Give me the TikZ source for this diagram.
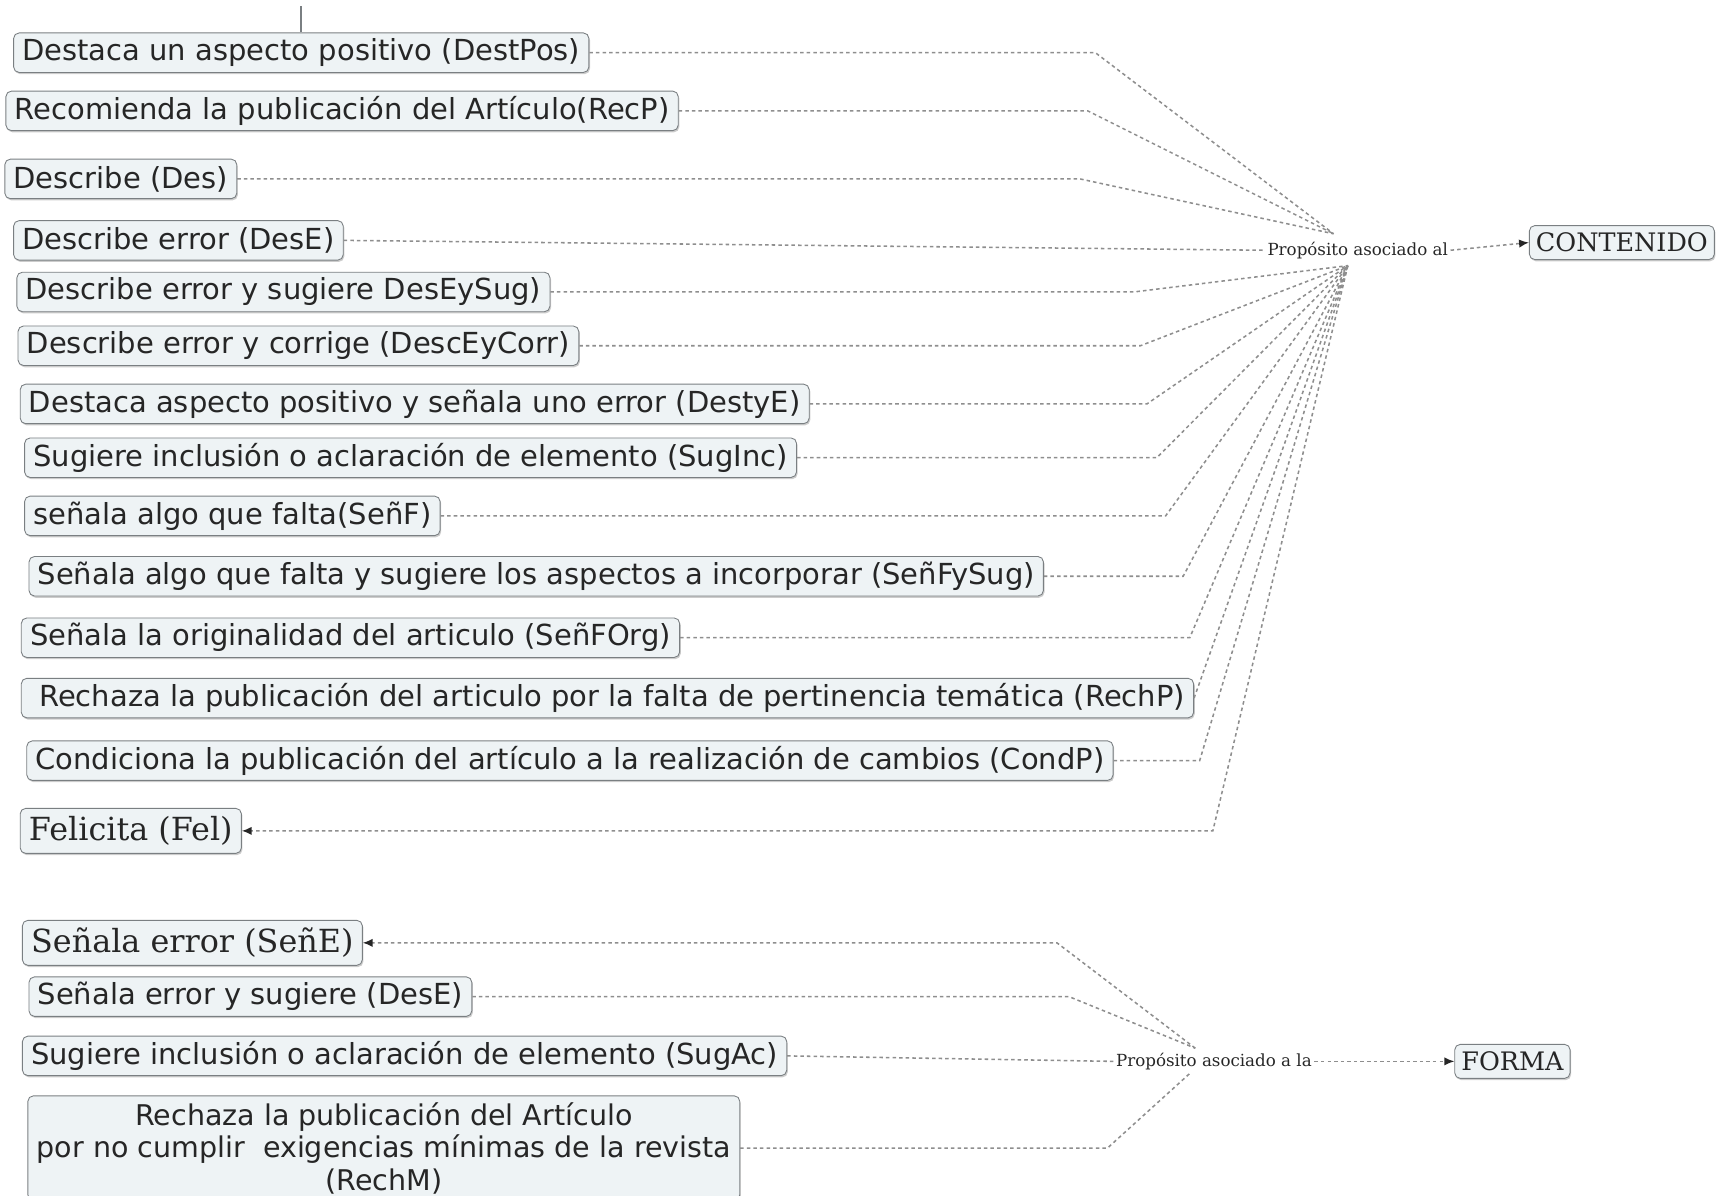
\documentclass[tikz,border=0pt]{standalone}
\usepackage{fontspec}
\setmainfont{DejaVu Sans}
\newfontfamily\serifnode{DejaVu Serif}
\usetikzlibrary{positioning,calc,arrows.meta,shadows}
\definecolor{boxfill}{HTML}{EEF3F5}
\definecolor{boxline}{HTML}{7A7F82}
\definecolor{linkgray}{HTML}{8E8E8E}
\definecolor{txt}{HTML}{262626}

\begin{document}
\begin{tikzpicture}[x=0.5pt,y=-0.5pt,
	item/.style={draw=boxline,fill=boxfill,rounded corners=2.5pt,text=txt,anchor=west,
		inner xsep=4pt,inner ysep=2pt,minimum height=18pt,
		font=\fontsize{13.2}{15.8}\selectfont,
		drop shadow={shadow xshift=0.5pt,shadow yshift=-0.8pt,opacity=0.2,fill=black}},
	bigitem/.style={item,font=\serifnode\fontsize{14.5}{17}\selectfont,minimum height=20.5pt},
	topic/.style={item,font=\serifnode\fontsize{11.6}{14}\selectfont,minimum height=15.5pt,inner xsep=3pt},
	via/.style={text=black!85,inner sep=1pt,font=\serifnode\fontsize{7.6}{9}\selectfont},
	link/.style={draw=linkgray,line width=0.7pt,dash pattern=on 1.6pt off 1.4pt},
	tip/.style={-{Latex[length=4.5pt,width=3.8pt,color=black!85]}}
	]
	\useasboundingbox (0,0) rectangle (1568,1089);
	
	\node[item] (DestPos) at (12,48) {Destaca un aspecto positivo (DestPos)};
	\node[item] (RecP) at (5,101) {Recomienda la publicación del Artículo(RecP)};
	\node[item] (Des) at (4,163) {Describe (Des)};
	\node[item] (DesE) at (12,219) {Describe error (DesE)};
	\node[item] (DesEySug) at (15,266) {Describe error y sugiere DesEySug)};
	\node[item] (DescEyCorr) at (16,315) {Describe error y corrige (DescEyCorr)};
	\node[item] (DestyE) at (18,368) {Destaca aspecto positivo y señala uno error (DestyE)};
	\node[item] (SugInc) at (22,417) {Sugiere inclusión o aclaración de elemento (SugInc)};
	\node[item] (SenF) at (22,470) {señala algo que falta(SeñF)};
	\node[item] (SenFySug) at (26,525) {Señala algo que falta y sugiere los aspectos a incorporar (SeñFySug)};
	\node[item] (SenFOrg) at (19,581) {Señala la originalidad del articulo (SeñFOrg)};
	\node[item] (RechP) at (19,636) {\ Rechaza la publicación del articulo por la falta de pertinencia temática (RechP)};
	\node[item] (CondP) at (24,693) {Condiciona la publicación del artículo a la realización de cambios (CondP)};
	\node[bigitem] (Fel) at (18,757) {Felicita (Fel)};
	
	\coordinate (stem) at ($(DestPos.north)+(0,-24)$);
	\draw[boxline,line width=0.7pt] (stem)--(DestPos.north);
	
	\node[via] (pc) at (1237,228) {Propósito asociado al};
	\node[topic] (CONTENIDO) at (1393,221) {CONTENIDO};
	\coordinate (hubA) at (1215,213);
	\coordinate (hubB) at (1228,242);
	
	\foreach \n/\bx in {DestPos/998,RecP/991,Des/984}{%
		\draw[link] (\n.east)--(\n.east -| \bx,0)--(hubA);
	}
	\draw[link] (DesE.east)--(pc.west);
	\foreach \n/\bx in {DesEySug/1033,DescEyCorr/1039,DestyE/1045,SugInc/1054,SenF/1062,SenFySug/1078,SenFOrg/1084,CondP/1093}{%
		\draw[link] (\n.east)--(\n.east -| \bx,0)--(hubB);
	}
	\draw[link] (RechP.east)--(hubB);
	\draw[link,tip] (hubB)--(Fel.east -| 1105,0)--(Fel.east);
	\draw[link,tip] (pc.east)--(CONTENIDO.west);
	
	\node[bigitem] (SenE) at (20,859) {Señala error (SeñE)};
	\node[item] (DesE2) at (26,908) {Señala error y sugiere (DesE)};
	\node[item] (SugAc) at (20,962) {Sugiere inclusión o aclaración de elemento (SugAc)};
	\node[item,align=center,inner ysep=3pt,font=\fontsize{13}{14.75}\selectfont] (RechM) at (25,1046) {Rechaza la publicación del Artículo\\por no cumplir~ exigencias mínimas de la revista\\(RechM)};
	
	\node[via] (pf) at (1106,967) {Propósito asociado a la};
	\node[topic] (FORMA) at (1325,967) {FORMA};
	\coordinate (hubC) at (1089,955);
	\coordinate (hubD) at (1084,978);
	
	\draw[link,tip] (hubC)--(SenE.east -| 963,0)--(SenE.east);
	\draw[link] (DesE2.east)--(DesE2.east -| 974,0)--(hubC);
	\draw[link] (SugAc.east)--(pf.west);
	\draw[link] (RechM.east)--(RechM.east -| 1009,0)--(hubD);
	\draw[link,tip] (pf.east)--(FORMA.west);
\end{tikzpicture}
\end{document}
